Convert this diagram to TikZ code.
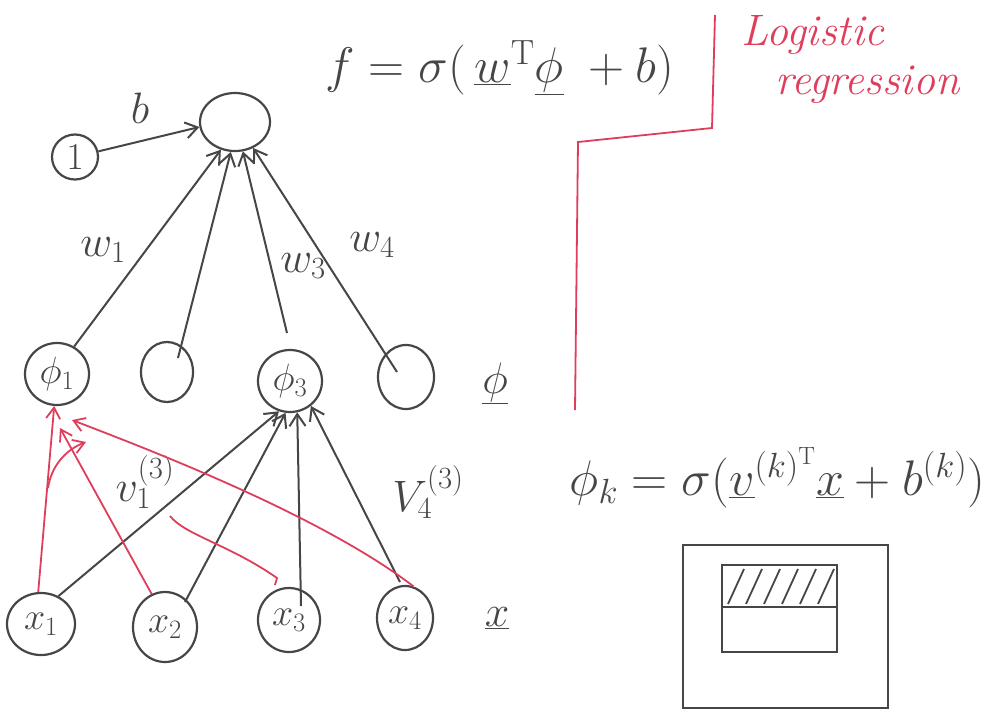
\RequirePackage{fix-cm}
\documentclass[tikz,border=0pt]{standalone}
\usetikzlibrary{shapes.geometric,arrows.meta}
\definecolor{ink}{RGB}{70,70,70}
\definecolor{redink}{RGB}{222,62,92}
\begin{document}
\begin{tikzpicture}[x=1pt,y=-1pt,
  unit/.style={draw=ink,line width=2.2pt,ellipse,inner sep=0pt,text=ink,font=\fontsize{38}{42}\selectfont},
  conn/.style={draw=ink,line width=2pt,-{Straight Barb[length=12pt,width=16pt,line width=2pt]}},
  rconn/.style={draw=redink,line width=1.8pt,-{Straight Barb[length=11pt,width=14pt,line width=1.8pt]}},
  lbl/.style={text=ink,font=\fontsize{44}{48}\selectfont},
  eqn/.style={text=ink,font=\fontsize{50}{56}\selectfont}]
\useasboundingbox (0,0) rectangle (996,713);
% nodes
\node[unit,minimum width=70pt,minimum height=58pt] (f) at (235,122) {};
\node[unit,minimum width=46pt,minimum height=45pt] (one) at (75,157) {$1$};
\node[unit,minimum width=64pt,minimum height=62pt] (phi1) at (57,374) {$\phi_1$};
\node[unit,minimum width=52pt,minimum height=60pt] (phi2) at (167,372) {};
\node[unit,minimum width=64pt,minimum height=62pt] (phi3) at (290,381) {$\phi_3$};
\node[unit,minimum width=56pt,minimum height=64pt] (phi4) at (406,377) {};
\node[unit,minimum width=68pt,minimum height=62pt] (x1) at (41,624) {$x_1$};
\node[unit,minimum width=64pt,minimum height=70pt] (x2) at (165,627) {$x_2$};
\node[unit,minimum width=62pt,minimum height=64pt] (x3) at (289,620) {$x_3$};
\node[unit,minimum width=56pt,minimum height=64pt] (x4) at (405,618) {$x_4$};
\node[lbl] (philbl) at (495,383) {$\underline{\phi}$};
\node[lbl] (xlbl) at (497,618) {$\underline{x}$};
% coordinates
\coordinate (p3top) at (287,333);
\coordinate (p2in) at (178,358);
\coordinate (p4in) at (397,372);
\coordinate (x2in) at (185,602);
\coordinate (x3in) at (301,606);
\coordinate (x4top) at (400,582);
% bias
\draw[conn] (one) -- (f.188);
\node[lbl] (blbl) at (140,108) {$b$};
% phi -> f
\draw[conn] (phi1.58) -- (f.243);
\draw[conn] (p2in) -- (f.262);
\draw[conn] (p3top) -- (f.285);
\draw[conn] (p4in) -- (f.305);
\node[lbl] (w1) at (103,250) {$w_1$};
\node[lbl] (w3) at (303,266) {$w_3$};
\node[lbl] (w4) at (372,245) {$w_4$};
% x -> phi3
\draw[conn] (x1.58) -- (phi3.250);
\draw[conn] (x2in) -- (phi3.262);
\draw[conn] (x3in) -- (phi3.283);
\draw[conn] (x4top) -- (phi3.310);
\node[lbl] (v1) at (145,482) {$v_1^{(3)}$};
\node[lbl] (v4) at (428,492) {$V_4^{(3)}$};
% red connections into phi1
\draw[rconn] (x1.95) -- (phi1.265);
\draw[rconn] (x2.112) -- (60,428);
\draw[rconn] (x4.75) .. controls (320,515) and (150,450) .. (72,420);
\draw[rconn] (48,488) .. controls (52,462) and (70,448) .. (86,442);
\coordinate (r3a) at (170,516);
\coordinate (r3b) at (277,578);
\draw[redink,line width=1.8pt] (r3a) .. controls (185,535) and (230,545) .. (r3b) -- (275,585);
% equations
\node[eqn,anchor=west] (feq) at (322,68) {$f=\sigma\big(\,\underline{w}^{\mathrm{T}}\underline{\phi}\;+b\big)$};
\node[eqn,anchor=west] (phieq) at (566,478) {$\phi_k=\sigma\big(\underline{v}^{(k)^{\mathrm{T}}}\underline{x}+b^{(k)}\big)$};
% red bracket
\coordinate (ra) at (575,410);
\coordinate (rb) at (578,142);
\coordinate (rc) at (712,128);
\coordinate (rd) at (715,15);
\draw[redink,line width=1.8pt] (ra) -- (rb) -- (rc) -- (rd);
\node[text=redink,font=\itshape\fontsize{44}{48}\selectfont,anchor=west] (lr1) at (738,35) {Logistic};
\node[text=redink,font=\itshape\fontsize{44}{48}\selectfont,anchor=west] (lr2) at (772,85) {regression};
% box sketch
\draw[ink,line width=2.2pt] (683,545) rectangle (888,708);
\draw[ink,line width=2.2pt] (722,565) rectangle (837,607);
\draw[ink,line width=2.2pt] (722,607) rectangle (837,652);
\foreach \i in {0,...,5}{
  \draw[ink,line width=1.8pt] ({728+\i*18},604) -- ({744+\i*18},569);
}
\end{tikzpicture}
\end{document}
